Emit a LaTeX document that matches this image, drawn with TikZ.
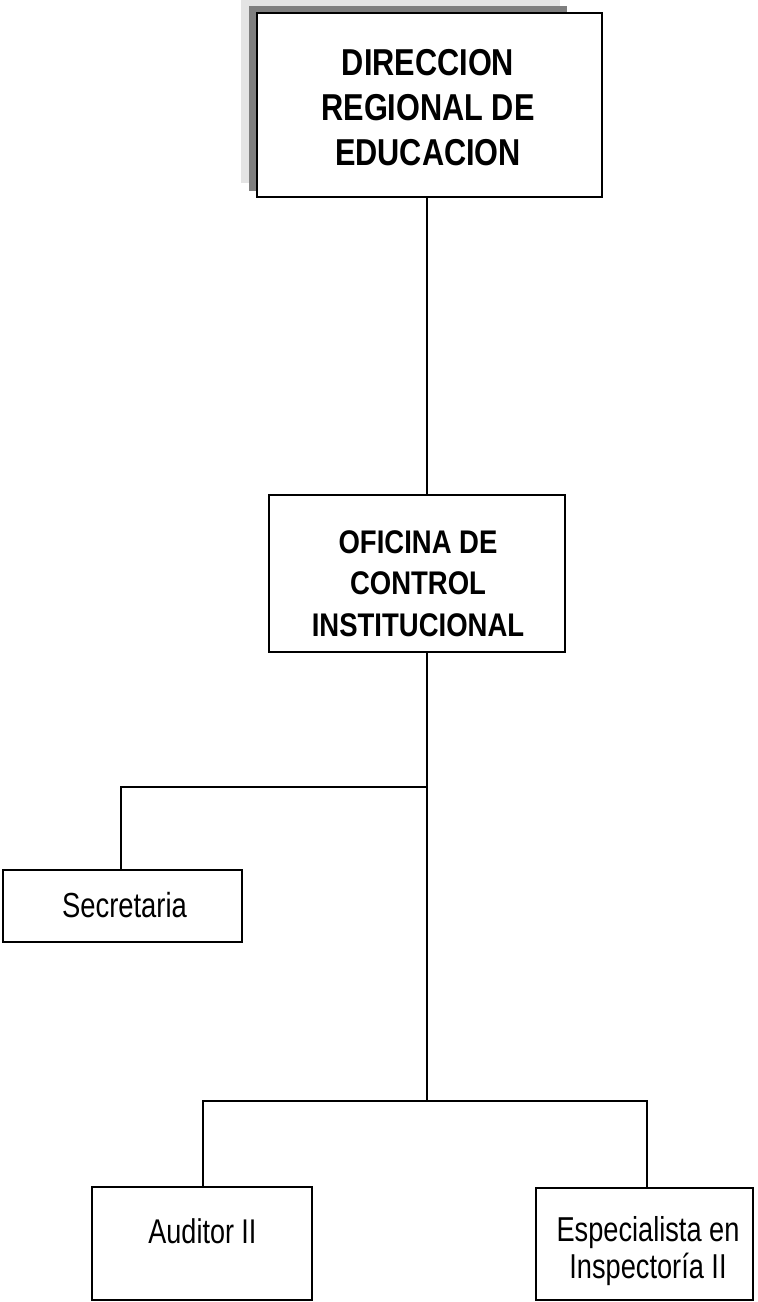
\documentclass[tikz,border=0pt]{standalone}
\usepackage{fontspec}
\setmainfont{Liberation Sans}
\usepackage{graphicx}
\newcommand\vst[2]{\scalebox{1}[#1]{#2}}
\definecolor{shadowlight}{HTML}{E4E4E4}
\definecolor{shadowdark}{HTML}{7F7F7F}
\tikzset{
  orgbox/.style={draw=black, line width=1.7pt, fill=white, rectangle, inner sep=0pt},
  conn/.style={draw=black, line width=1.6pt},
  lbl/.style={inner sep=0pt, anchor=base, align=center},
}
\begin{document}
\begin{tikzpicture}[x=1pt,y=-1pt]
\useasboundingbox (0,0) rectangle (758,1302);
% shadows of top box
\fill[shadowlight] (241,0) rectangle (560,183);
\fill[shadowdark] (249,6) rectangle (567,191);
% boxes
\node[orgbox, minimum width=345pt, minimum height=184pt] (dre) at (429.5,105) {};
\node[orgbox, minimum width=296pt, minimum height=157pt] (oci) at (417,573.5) {};
\node[orgbox, minimum width=239pt, minimum height=72pt] (sec) at (122.5,906) {};
\node[orgbox, minimum width=220pt, minimum height=113pt] (aud) at (202,1243.5) {};
\node[orgbox, minimum width=217pt, minimum height=112pt] (esp) at (644.5,1244) {};
% texts (anchor base = baseline of the last line)
\node[lbl, font=\fontsize{30.7}{45}\selectfont\bfseries] (tdre) at (428,165)
  {\vst{1.22}{DIRECCION}\\\vst{1.22}{REGIONAL DE}\\\vst{1.22}{EDUCACION}};
\node[lbl, font=\fontsize{27.5}{41.7}\selectfont\bfseries] (toci) at (418,636.5)
  {\vst{1.19}{OFICINA DE}\\\vst{1.19}{CONTROL}\\\vst{1.19}{INSTITUCIONAL}};
\node[lbl, font=\fontsize{27.4}{36}\selectfont] (tsec) at (124.5,917) {\vst{1.27}{Secretaria}};
\node[lbl, font=\fontsize{27}{36}\selectfont] (taud) at (202.5,1243) {\vst{1.27}{Auditor II}};
\node[lbl, font=\fontsize{27.2}{36.5}\selectfont] (tesp) at (648,1278)
  {\vst{1.27}{Especialista en}\\\vst{1.27}{Inspectoría II}};
% connectors
\coordinate (j1) at (427,787);
\coordinate (j2) at (427,1101);
\draw[conn] (dre.south -| j1) -- (oci.north -| j1);
\draw[conn] (oci.south -| j1) -- (j2);
\draw[conn] (j1) -| ([xshift=-1.5pt]sec.north);
\draw[conn] (j2) -| ([xshift=1pt]aud.north);
\draw[conn] (j2) -| ([xshift=2.5pt]esp.north);
\end{tikzpicture}
\end{document}
